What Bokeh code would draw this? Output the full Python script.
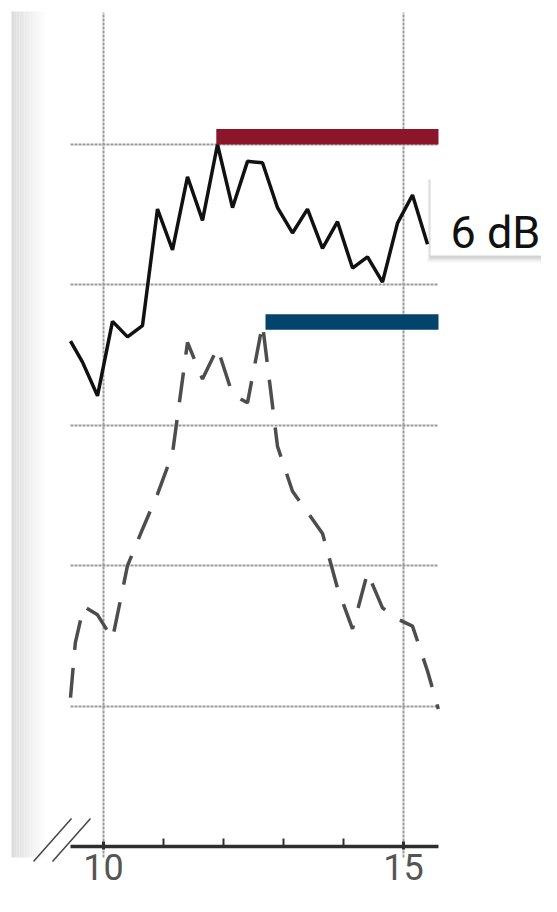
from bokeh.plotting import figure
from bokeh.models import Range1d, LinearAxis, Grid, FixedTicker, Label
from bokeh.embed import file_html
from bokeh.resources import INLINE

# ---------------- data ----------------
freq = [9.45, 9.65, 9.9, 10.15, 10.4, 10.65, 10.9, 11.15, 11.4, 11.65, 11.9,
        12.15, 12.4, 12.65, 12.9, 13.15, 13.4, 13.65, 13.9, 14.15, 14.4, 14.65,
        14.9, 15.15, 15.4]
level_solid = [36.0, 34.5, 32.1, 37.4, 36.3, 37.1, 45.4, 42.5, 47.7, 44.6, 50.0,
               45.5, 48.8, 48.7, 45.5, 43.7, 45.4, 42.6, 44.5, 41.2, 42.0, 40.2,
               44.4, 46.4, 42.9]
freq_dashed = [9.45, 9.53, 9.67, 9.9, 10.15, 10.4, 10.65, 10.9, 11.15, 11.4,
               11.65, 11.9, 12.15, 12.4, 12.65, 12.9, 13.15, 13.4, 13.65, 13.9,
               14.15, 14.4, 14.65, 14.9, 15.15, 15.4, 15.58]
level_dashed = [10.6, 14.5, 17.1, 16.5, 14.8, 20.0, 22.6, 25.1, 28.0, 35.9,
                33.3, 35.5, 32.2, 31.6, 37.2, 28.5, 25.3, 23.8, 22.3, 18.4,
                15.5, 19.5, 17.0, 16.2, 15.7, 12.5, 9.8]
red_start, red_level = 11.88, 50.0
blue_start, blue_level = 12.7, 36.8
x_major_ticks = [10, 15]
x_minor_ticks = [11, 12, 13, 14]
y_grid_ticks = [10, 20, 30, 40, 50]
gap_label = "6 dB"

# ---------------- geometry ----------------
W, H = 541, 896
X0_PX, PX_PER_X = 103.0, 60.0     # pixel of x=10, pixels per unit
Y0_PX, PX_PER_Y = 846.0, 14.04    # pixel of level 0, pixels per unit


def dx(px):
    return 10 + (px - X0_PX) / PX_PER_X


def dy(py):
    return (Y0_PX - py) / PX_PER_Y


X_LEFT, X_RIGHT, Y_TOP = dx(70), dx(438), dy(12)
BAR_H = 15.5 / PX_PER_Y

p = figure(width=W, height=H, output_backend="svg", toolbar_location=None,
           x_range=Range1d(dx(0), dx(W)),
           y_range=Range1d(dy(H), dy(0)),
           x_axis_location=None, y_axis_location=None, min_border=0)
p.outline_line_color = None
p.background_fill_color = "white"
p.border_fill_color = "white"
# drop the default grids
p.center = [r for r in p.center if not isinstance(r, Grid)]

# left grey gradient strip
n = 14
for i in range(n):
    g = int(220 + (255 - 220) * (i / (n - 1)) ** 0.8)
    p.quad(left=[dx(11 + i * 2.6)], right=[dx(11 + (i + 1) * 2.6)],
           bottom=[dy(857)], top=[dy(11)],
           fill_color=(g, g, g), line_color=None)

# grids
grid_style = dict(grid_line_color="#9a9a9a", grid_line_width=2, grid_line_dash="3 1")
xg = Grid(dimension=0, ticker=FixedTicker(ticks=x_major_ticks),
          cross_bounds=(dy(857), Y_TOP), **grid_style)
yg = Grid(dimension=1, ticker=FixedTicker(ticks=y_grid_ticks),
          cross_bounds=(X_LEFT, X_RIGHT), **grid_style)
p.add_layout(xg)
p.add_layout(yg)

# axis
ax = LinearAxis(fixed_location=0, bounds=(X_LEFT, X_RIGHT),
                ticker=FixedTicker(ticks=x_major_ticks, minor_ticks=x_minor_ticks))
ax.axis_line_color = "#2e2e2e"
ax.axis_line_width = 3.5
ax.major_tick_line_color = "#2e2e2e"
ax.major_tick_line_width = 3
ax.major_tick_in = 5
ax.major_tick_out = 3
ax.minor_tick_line_color = "#2e2e2e"
ax.minor_tick_line_width = 2
ax.minor_tick_in = 8
ax.minor_tick_out = 0
ax.major_label_text_font = "Roboto"
ax.major_label_text_font_size = "36px"
ax.major_label_text_color = "#555555"
ax.major_label_standoff = 4
p.add_layout(ax, "below")

# axis break marks
p.segment(x0=[dx(33), dx(52)], y0=[dy(861), dy(861)],
          x1=[dx(71), dx(90)], y1=[dy(818), dy(818)],
          line_color="#444444", line_width=1.5)

# data lines
p.line(freq_dashed, level_dashed, line_color="#4d4d4d", line_width=3.5,
       line_dash="30 18")
p.line(freq, level_solid, line_color="#111111", line_width=3.5)

# level bars
p.quad(left=[red_start], right=[X_RIGHT], bottom=[red_level],
       top=[red_level + BAR_H], fill_color="#8c1629", line_color=None)
p.quad(left=[blue_start], right=[X_RIGHT], bottom=[blue_level],
       top=[blue_level + BAR_H], fill_color="#03446c", line_color=None)

# label box with soft shadow
for k, a in [(6, 0.04), (4, 0.06), (2, 0.08)]:
    p.quad(left=[dx(430 - k / 2)], right=[dx(560)], bottom=[dy(255 + k + 1)],
           top=[dy(177 + 2)], fill_color="black", fill_alpha=a, line_color=None)
p.quad(left=[dx(430)], right=[dx(560)], bottom=[dy(255)], top=[dy(177)],
       fill_color="white", line_color=None)
p.add_layout(Label(x=dx(450), y=dy(232), text=gap_label, text_font="Roboto",
                   text_font_size="45px", text_color="#111111",
                   text_baseline="alphabetic", text_align="left"))

open("out.html", "w").write(file_html(p, INLINE))
